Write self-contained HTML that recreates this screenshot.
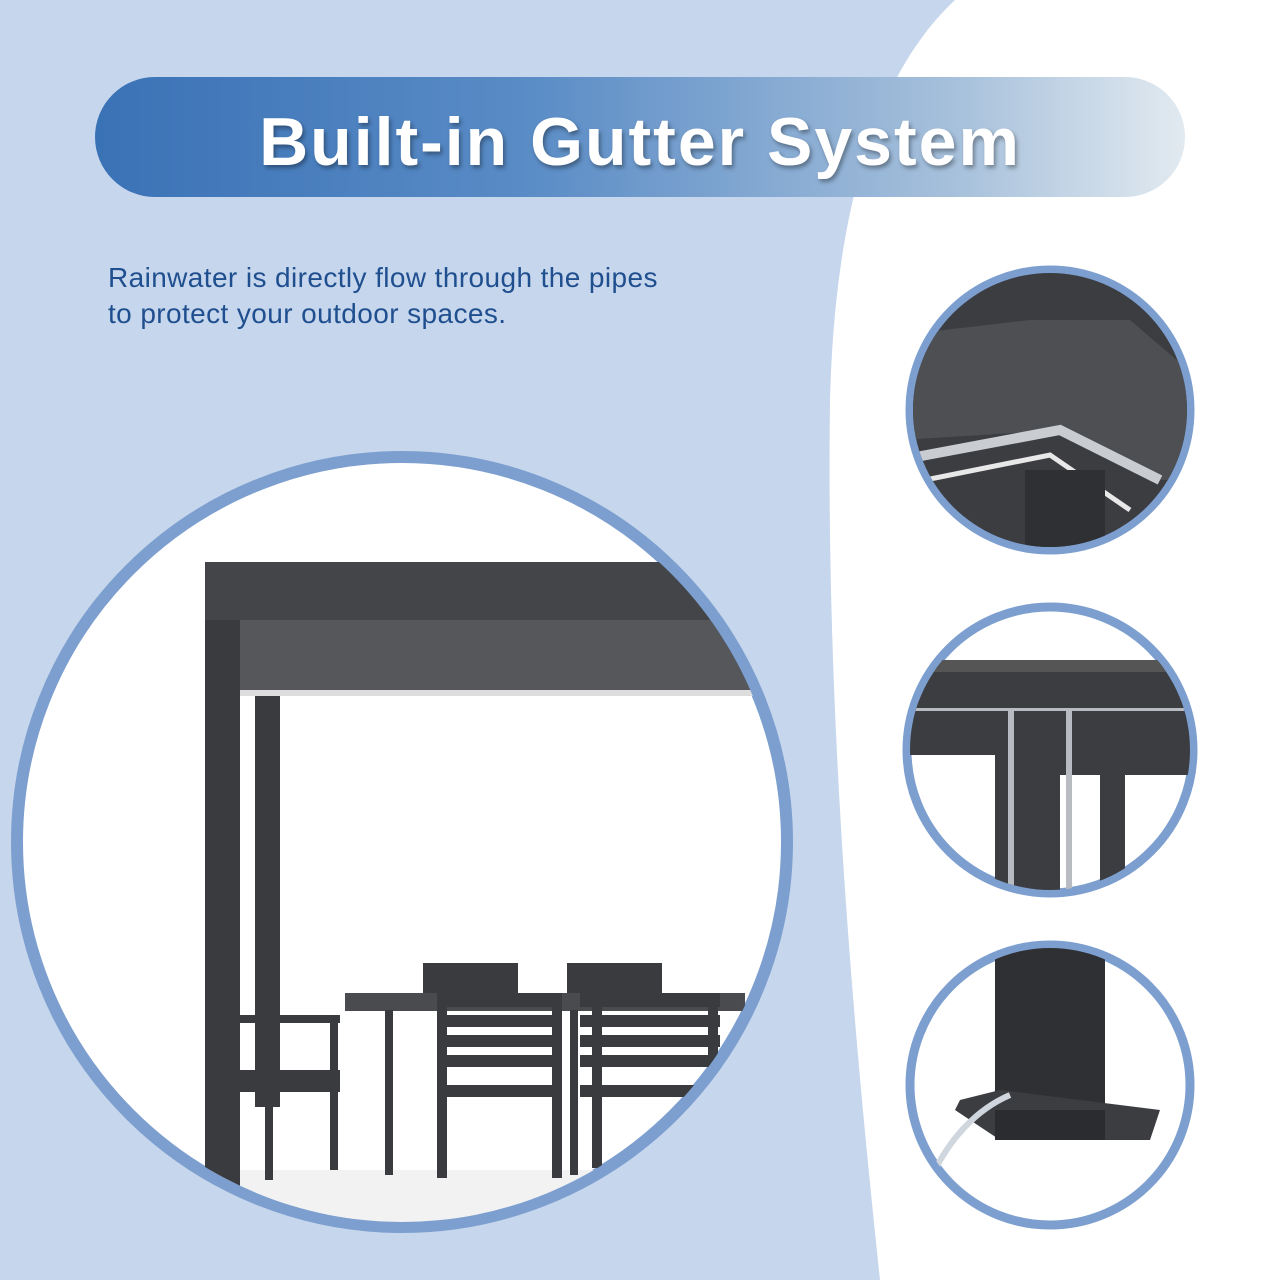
<!DOCTYPE html>
<html><head><meta charset="utf-8"><style>
html,body{margin:0;padding:0}
body{width:1280px;height:1280px;position:relative;overflow:hidden;background:#c6d6ec;font-family:"Liberation Sans",sans-serif}
svg{position:absolute;left:0;top:0}
.title{position:absolute;left:95px;top:77px;width:1090px;height:120px;border-radius:60px;background:linear-gradient(90deg,#3a72b6 0%,#5a8cc6 40%,#a9c2dc 80%,#e2eaf0 100%);}
.title span{position:absolute;left:0;width:100%;top:26px;text-align:center;color:#fff;font-weight:bold;font-size:68px;letter-spacing:2px;text-shadow:2px 3px 4px rgba(0,0,0,.35);white-space:nowrap}
.txt{position:absolute;left:108px;top:260px;color:#1f4f8f;font-size:28px;letter-spacing:0.4px;line-height:36px;white-space:nowrap}
</style></head><body>
<svg width="1280" height="1280" viewBox="0 0 1280 1280">
<path d="M955,0 C880,70 835,200 830,400 C826,700 850,1000 880,1280 L1280,1280 L1280,0 Z" fill="#fff"/>
<defs>
<clipPath id="c1"><circle cx="402" cy="842" r="380"/></clipPath>
<clipPath id="c2"><circle cx="1050" cy="410" r="137"/></clipPath>
<clipPath id="c3"><circle cx="1050" cy="750" r="140"/></clipPath>
<clipPath id="c4"><circle cx="1050" cy="1085" r="137"/></clipPath>
</defs>
<circle cx="402" cy="842" r="385" fill="#fff" stroke="#7d9fcf" stroke-width="12"/>
<g clip-path="url(#c1)" fill="#3a3b3e">
<rect x="0" y="1170" width="800" height="100" fill="#f2f2f2"/>
<rect x="205" y="562" width="35" height="650"/>
<rect x="205" y="562" width="600" height="58" fill="#444549"/>
<rect x="240" y="620" width="560" height="72" fill="#55575b"/>
<rect x="255" y="692" width="25" height="415"/>
<rect x="240" y="690" width="560" height="6" fill="#ddd"/>
<rect x="345" y="993" width="400" height="18" fill="#4a4b4e"/>
<rect x="385" y="1010" width="8" height="165"/><rect x="570" y="1010" width="8" height="165"/>
<rect x="423" y="963" width="95" height="30"/><rect x="567" y="963" width="95" height="30"/>
<g>
<rect x="437" y="993" width="125" height="14"/><rect x="437" y="1015" width="125" height="12"/><rect x="437" y="1035" width="125" height="12"/><rect x="437" y="1055" width="125" height="12"/>
<rect x="437" y="993" width="10" height="185"/><rect x="552" y="993" width="10" height="185"/>
<rect x="437" y="1085" width="125" height="12"/>
<rect x="580" y="993" width="140" height="14"/><rect x="580" y="1015" width="140" height="12"/><rect x="580" y="1035" width="140" height="12"/><rect x="580" y="1055" width="140" height="12"/>
<rect x="592" y="993" width="10" height="175"/><rect x="708" y="993" width="10" height="100"/>
<rect x="580" y="1085" width="140" height="12"/>
</g>
<rect x="240" y="1015" width="100" height="8"/><rect x="240" y="1070" width="100" height="22"/>
<rect x="330" y="1015" width="8" height="155"/><rect x="265" y="1090" width="8" height="90"/>
</g>
<circle cx="1050" cy="410" r="140" fill="#fff" stroke="#7d9fcf" stroke-width="9"/>
<g clip-path="url(#c2)">
<rect x="900" y="270" width="300" height="280" fill="#3c3d41"/>
<polygon points="900,335 1030,320 1130,320 1200,380 1200,480 1150,480 1060,430 900,440" fill="#4d4f53"/>
<polyline points="900,460 1060,430 1160,480" fill="none" stroke="#c9ccd0" stroke-width="10"/>
<polyline points="900,485 1050,455 1130,510" fill="none" stroke="#e8e8e8" stroke-width="5"/>
<rect x="1025" y="470" width="80" height="90" fill="#2f3033"/>
</g>
<circle cx="1050" cy="750" r="143" fill="#fff" stroke="#7d9fcf" stroke-width="9"/>
<g clip-path="url(#c3)">
<rect x="900" y="660" width="300" height="60" fill="#3c3d41"/>
<rect x="900" y="660" width="300" height="12" fill="#555"/>
<rect x="995" y="700" width="65" height="200" fill="#3c3d41"/>
<rect x="900" y="700" width="95" height="55" fill="#3c3d41"/>
<rect x="1060" y="700" width="140" height="75" fill="#3c3d41"/>
<rect x="1100" y="775" width="25" height="130" fill="#3c3d41"/>
<rect x="900" y="708" width="300" height="3" fill="#b8bcc2"/>
<rect x="1008" y="710" width="6" height="180" fill="#b8bcc2"/>
<rect x="1066" y="710" width="6" height="180" fill="#b8bcc2"/>
</g>
<circle cx="1050" cy="1085" r="140" fill="#fff" stroke="#7d9fcf" stroke-width="9"/>
<g clip-path="url(#c4)">
<rect x="995" y="940" width="110" height="195" fill="#2f3033"/>
<polygon points="960,1100 1000,1090 1160,1110 1150,1140 1000,1140 955,1110" fill="#3c3d41"/>
<rect x="995" y="1110" width="110" height="30" fill="#2b2c2f"/>
<path d="M1010,1095 C975,1110 950,1140 935,1170" stroke="#cfd6de" stroke-width="6" fill="none"/>
</g>
</svg>
<div class="title"><span>Built-in Gutter System</span></div>
<div class="txt">Rainwater is directly flow through the pipes<br>to protect your outdoor spaces.</div>
</body></html>
